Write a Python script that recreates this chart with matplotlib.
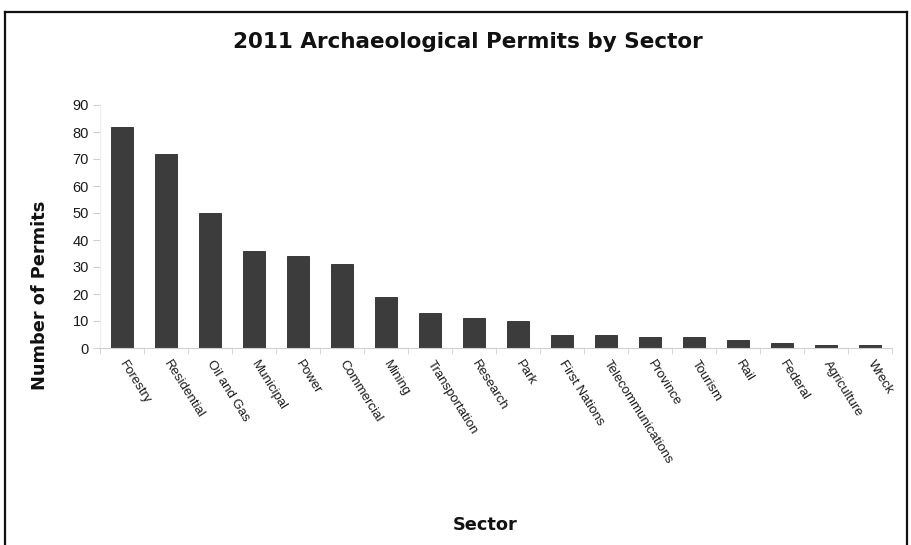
import matplotlib
matplotlib.use("Agg")
import matplotlib.pyplot as plt
from matplotlib.lines import Line2D
import numpy as np

plt.rcParams['font.family'] = ['Liberation Sans', 'DejaVu Sans']

sectors = ["Forestry", "Residential", "Oil and Gas", "Municipal", "Power", "Commercial",
           "Mining", "Transportation", "Research", "Park", "First Nations",
           "Telecommunications", "Province", "Tourism", "Rail", "Federal",
           "Agriculture", "Wreck"]
permits = [82, 72, 50, 36, 34, 31, 19, 13, 11, 10, 5, 5, 4, 4, 3, 2, 1, 1]
yticks = [0, 10, 20, 30, 40, 50, 60, 70, 80, 90]

W, H = 912, 545
fig = plt.figure(figsize=(W / 100, H / 100), dpi=100)
ax = fig.add_axes([100 / W, 1 - 348 / H, (892 - 100) / W, (348 - 105) / H])

x = np.arange(len(sectors))
ax.bar(x, permits, width=0.48, color='#3c3c3c', edgecolor='#2a2a2a', linewidth=0.6)
ax.set_xlim(-0.5, len(sectors) - 0.5)
ax.set_ylim(0, 90)
ax.set_yticks(yticks)
ax.set_yticklabels([str(v) for v in yticks], fontsize=10.5, color='#1a1a1a')
ax.set_xticks(x)
ax.set_xticklabels(sectors, rotation=-58, ha='left', va='center', rotation_mode='anchor',
                   fontsize=9.5, color='#1a1a1a')
ax.set_xticks(np.arange(len(sectors) + 1) - 0.5, minor=True)
ax.tick_params(axis='x', which='major', length=0, pad=10)
ax.tick_params(axis='x', which='minor', length=4, color='#cfcfcf')
ax.tick_params(axis='y', length=5, color='#cfcfcf', pad=3)
for s in ['top', 'right']:
    ax.spines[s].set_visible(False)
ax.spines['left'].set_color('#ececec')
ax.spines['bottom'].set_color('#cfcfcf')

fig.text(468 / W, 1 - 42 / H, "2011 Archaeological Permits by Sector", ha='center', va='center',
         fontsize=15.5, fontweight='bold', color='#111111', family='DejaVu Sans')
fig.text(40 / W, 1 - 295 / H, "Number of Permits", ha='center', va='center', rotation=90,
         fontsize=12.8, fontweight='bold', color='#111111', family='DejaVu Sans')
fig.text(485 / W, 1 - 525 / H, "Sector", ha='center', va='center',
         fontsize=12.8, fontweight='bold', color='#111111', family='DejaVu Sans')

# outer border
for (x0, y0, x1, y1) in [(5, 12, 907, 12), (5, 12, 5, 545), (907, 12, 907, 545)]:
    fig.add_artist(Line2D([x0 / W, x1 / W], [1 - y0 / H, 1 - y1 / H], color='#111111',
                          linewidth=1.6, transform=fig.transFigure))

fig.savefig("out.png", dpi=100)
